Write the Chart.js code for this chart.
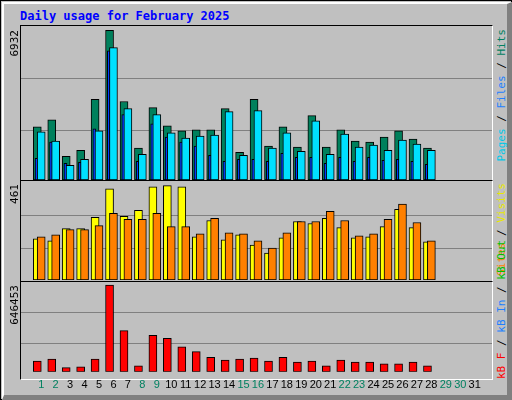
<!DOCTYPE html>
<html><head><meta charset="utf-8">
<script src="https://cdn.jsdelivr.net/npm/chart.js@4"></script>
<style>
html,body{margin:0;padding:0;background:#fff}
#outer{position:absolute;left:0;top:0;width:512px;height:400px;box-sizing:border-box;border:1px solid #000;background:#c0c0c0}
#bevel{position:absolute;left:1px;top:1px;width:510px;height:398px;box-sizing:border-box;border:2px solid;border-color:#fff #808080 #808080 #fff;border-width:2px 5px 5px 2px}
.p{position:absolute;box-sizing:content-box}
.frame{position:absolute;border-style:solid;border-width:1px;border-color:#000 #fff #fff #000;box-sizing:border-box}
.rl{position:absolute;height:14px;transform-origin:0 0;transform:rotate(-90deg);text-align:right;font:11px "DejaVu Sans Mono",monospace;white-space:nowrap;line-height:14px}
#title{position:absolute;left:19px;top:8px;font:bold 12px "DejaVu Sans Mono",monospace;color:#0000ff}
</style></head><body>
<div id="outer"><div id="bevel"></div>
<div id="title">Daily usage for February 2025</div>
<div class="frame" style="left:19px;top:24px;width:473px;height:156px"></div>
<div class="frame" style="left:19px;top:179px;width:473px;height:102px"></div>
<div class="frame" style="left:19px;top:280px;width:473px;height:99px"></div>
<canvas id="c1" class="p" style="left:20px;top:25px;width:471px;height:154px"></canvas>
<canvas id="c2" class="p" style="left:20px;top:181px;width:471px;height:98px"></canvas>
<canvas id="c3" class="p" style="left:20px;top:281px;width:471px;height:119px"></canvas>
<div class="rl" style="left:7px;top:179px;width:150px">6932</div>
<div class="rl" style="left:7px;top:279px;width:96px">461</div>
<div class="rl" style="left:7px;top:378px;width:94px">646453</div>
<div class="rl" style="left:494px;top:178px;width:150px"><span style="color:#00c8e8">Pages</span> / <span style="color:#2080ff">Files</span> / <span style="color:#008060">Hits</span></div>
<div class="rl" style="left:494px;top:280px;width:98px"><span style="color:#ff8000">Sites</span> / <span style="color:#e8e800">Visits</span></div>
<div class="rl" style="left:494px;top:378px;width:95px"><span style="color:#ff0000">kB F</span> / <span style="color:#2080ff">kB In</span> / <span style="color:#00c000">kB Out</span></div>
</div>
<script>
const days=[1,2,3,4,5,6,7,8,9,10,11,12,13,14,15,16,17,18,19,20,21,22,23,24,25,26,27,28];
const hits=[2462,2792,1098,1380,3733,6932,3639,1474,3356,2509,2274,2321,2321,3309,1286,3733,1568,2462,1521,2980,1521,2321,1804,1757,1992,2274,1898,1474];
const files=[2227,1804,674,957,2274,6132,3309,1192,3027,2180,1945,2039,2086,3168,1145,3215,1474,2180,1333,2745,1192,2133,1521,1615,1380,1851,1662,1380];
const pages=[1004,1757,768,815,2368,5991,3027,863,2603,1992,1757,1568,1145,863,957,957,863,1239,1051,1051,768,1051,863,1051,910,957,863,721];
const visits=[201,191,251,251,306,446,311,341,456,461,456,211,291,196,221,171,131,206,286,276,301,256,206,211,261,346,256,186];
const sites=[211,221,246,246,266,326,296,296,326,261,261,226,301,231,226,191,156,231,286,286,336,291,216,226,296,371,281,191];
const kbF=[80206,94360,30667,37744,94360,646453,306670,44821,271285,250054,186361,150976,108514,87283,94360,101437,80206,108514,73129,80206,44821,87283,73129,73129,58975,58975,73129,44821];
const weekend=[1,2,8,9,15,16,22,23,29,30];

const XMIN=0.128, XMAX=31.67;
const pts=(arr,off)=>arr.map((v,i)=>({x:days[i]+off,y:v}));
const ds=(arr,off,color,w,ord)=>({data:pts(arr,off),backgroundColor:color,borderColor:'#000',borderWidth:1,barThickness:w,borderSkipped:false,grouped:false,order:ord});
function yScale(max){return {min:0,max:max,display:true,border:{display:false},
  grid:{color:'#808080',drawTicks:false,lineWidth:1},ticks:{display:false},
  afterBuildTicks:s=>{s.ticks=[{value:max*0.32},{value:max*0.66}];},afterFit:s=>{s.width=0;}}}
function xScale(show){return {type:'linear',min:XMIN,max:XMAX,display:show,border:{display:false},
  grid:{display:false,drawTicks:false},
  ticks:{stepSize:1,includeBounds:false,autoSkip:false,maxRotation:0,padding:7,
    font:{family:'Liberation Sans',size:11},
    color:c=>weekend.includes(c.tick.value)?'#008060':'#000',
    callback:v=>(Number.isInteger(v)&&v>=1&&v<=31)?String(v):''}}}
const base={responsive:false,animation:false,devicePixelRatio:1,
  plugins:{legend:{display:false},tooltip:{enabled:false}}};
function mk(id,datasets,max,showX,pad){
  const el=document.getElementById(id);el.width=471;el.height=parseInt(el.style.height);
  new Chart(el,{type:'bar',data:{datasets},options:Object.assign({},base,{layout:{padding:pad||0},
    scales:{x:xScale(showX),y:yScale(max)}})});
}
mk('c1',[ds(hits,-0.27,'#00805c',8,2),ds(pages,-0.32,'#0040ff',3,1),ds(files,0,'#00e0ff',8,0)],7136,false);
mk('c2',[ds(visits,-0.27,'#ffff00',8,1),ds(sites,0,'#ff8000',8,0)],479,false);
mk('c3',[ds(kbF,-0.27,'#ff0000',8,0)],670000,true,{bottom:2});
</script></body></html>
